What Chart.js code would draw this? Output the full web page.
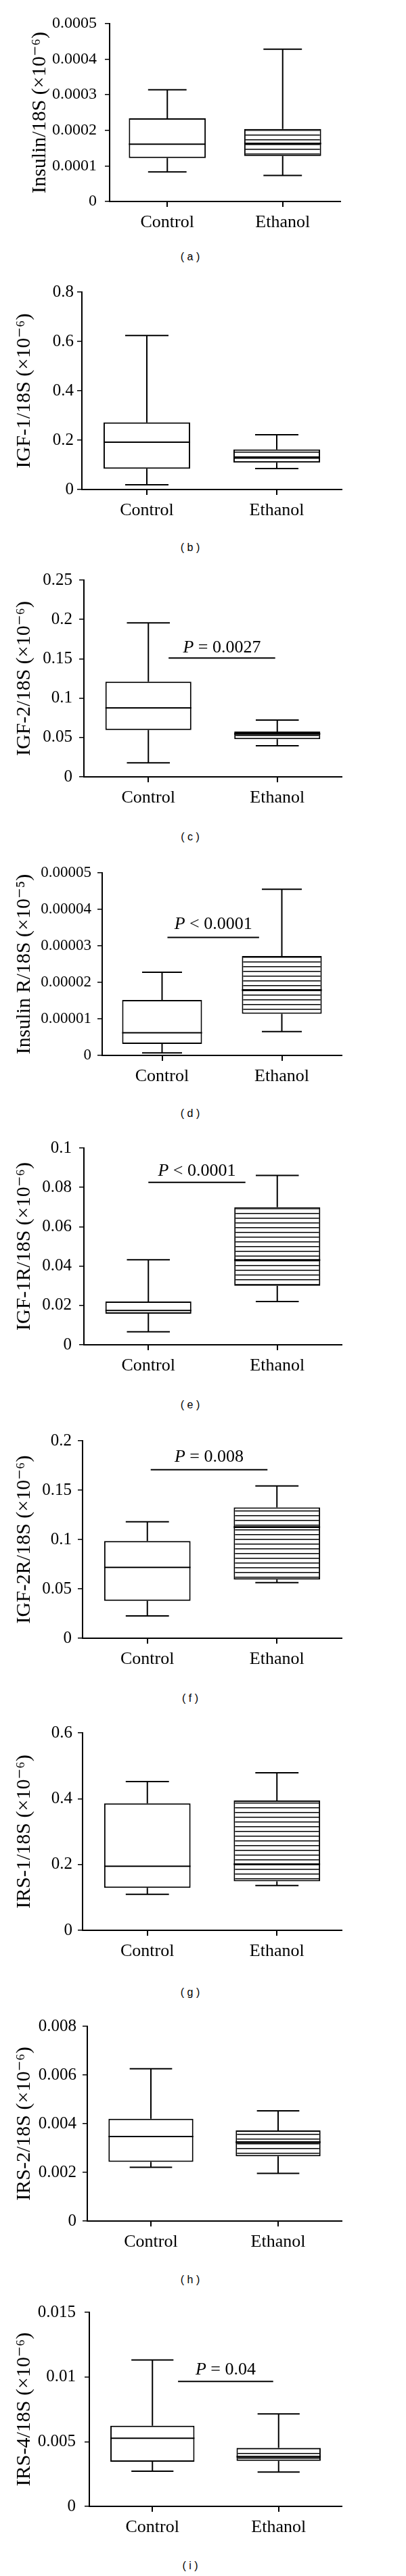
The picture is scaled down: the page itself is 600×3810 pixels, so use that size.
<!DOCTYPE html>
<html><head><meta charset="utf-8">
<script src="https://cdn.jsdelivr.net/npm/chart.js@4.4.0/dist/chart.umd.min.js"></script>
<style>
html,body{margin:0;padding:0;background:#fff;}
body{width:600px;height:3810px;position:relative;overflow:hidden;}
canvas{position:absolute;left:0;}
.sub{position:absolute;left:0;width:562px;text-align:center;font-family:"Liberation Sans",Arial,sans-serif;font-size:16px;line-height:20px;color:#000;white-space:pre;}
</style></head><body>
<script>
// ---------- DATA ----------
const categories = ['Control', 'Ethanol'];
// five-number summaries: [min, Q1, median, Q3, max]
const aControl = [0.0000831, 0.000122, 0.000161, 0.000234, 0.000314];
const aEthanol = [0.000073, 0.000128, 0.000163, 0.000204, 0.000428];
const bControl = [0.019, 0.084, 0.192, 0.272, 0.624];
const bEthanol = [0.085, 0.109, 0.128, 0.162, 0.222];
const cControl = [0.0178, 0.0596, 0.0876, 0.121, 0.1956];
const cEthanol = [0.0395, 0.0478, 0.0547, 0.0576, 0.0722];
const dControl = [0.00000068, 0.00000315, 0.0000062, 0.0000152, 0.0000228];
const dEthanol = [0.00000654, 0.0000114, 0.0000179, 0.0000272, 0.0000455];
const eControl = [0.0066, 0.0158, 0.0174, 0.022, 0.0432];
const eEthanol = [0.022, 0.030, 0.0431, 0.0699, 0.0861];
const fControl = [0.0226, 0.0379, 0.0717, 0.0984, 0.118];
const fEthanol = [0.0564, 0.0594, 0.1126, 0.1326, 0.1543];
const gControl = [0.1096, 0.1288, 0.1945, 0.386, 0.452];
const gEthanol = [0.136, 0.149, 0.201, 0.3945, 0.479];
const hControl = [0.00221, 0.00243, 0.00347, 0.0042, 0.00626];
const hEthanol = [0.00196, 0.00266, 0.00324, 0.00372, 0.00453];
const iControl = [0.00272, 0.00345, 0.00527, 0.00623, 0.01132];
const iEthanol = [0.00265, 0.00352, 0.00384, 0.00452, 0.00715];

const aTicks = [0, 0.0001, 0.0002, 0.0003, 0.0004, 0.0005];
const aTickLabels = ['0', '0.0001', '0.0002', '0.0003', '0.0004', '0.0005'];
const bTicks = [0, 0.2, 0.4, 0.6, 0.8];
const bTickLabels = ['0', '0.2', '0.4', '0.6', '0.8'];
const cTicks = [0, 0.05, 0.1, 0.15, 0.2, 0.25];
const cTickLabels = ['0', '0.05', '0.1', '0.15', '0.2', '0.25'];
const dTicks = [0, 0.00001, 0.00002, 0.00003, 0.00004, 0.00005];
const dTickLabels = ['0', '0.00001', '0.00002', '0.00003', '0.00004', '0.00005'];
const eTicks = [0, 0.02, 0.04, 0.06, 0.08, 0.1];
const eTickLabels = ['0', '0.02', '0.04', '0.06', '0.08', '0.1'];
const fTicks = [0, 0.05, 0.1, 0.15, 0.2];
const fTickLabels = ['0', '0.05', '0.1', '0.15', '0.2'];
const gTicks = [0, 0.2, 0.4, 0.6];
const gTickLabels = ['0', '0.2', '0.4', '0.6'];
const hTicks = [0, 0.002, 0.004, 0.006, 0.008];
const hTickLabels = ['0', '0.002', '0.004', '0.006', '0.008'];
const iTicks = [0, 0.005, 0.01, 0.015];
const iTickLabels = ['0', '0.005', '0.01', '0.015'];

const yTitles = ['Insulin/18S (×10⁻⁶)', 'IGF-1/18S (×10⁻⁶)', 'IGF-2/18S (×10⁻⁶)', 'Insulin R/18S (×10⁻⁵)',
  'IGF-1R/18S (×10⁻⁶)', 'IGF-2R/18S (×10⁻⁶)', 'IRS-1/18S (×10⁻⁶)', 'IRS-2/18S (×10⁻⁶)', 'IRS-4/18S (×10⁻⁶)'];
const panelLetters = ['a', 'b', 'c', 'd', 'e', 'f', 'g', 'h', 'i'];
// significance bars: [from (category units), to (category units), y value]
const cSig = [0.157, 0.984, 0.151];
const dSig = [0.045, 0.81, 0.0000323];
const eSig = [0.0, 0.753, 0.0826];
const fSig = [0.026, 0.927, 0.1708];
const iSig = [0.203, 0.957, 0.00965];
const cSigText = '= 0.0027';
const dSigText = '< 0.0001';
const eSigText = '< 0.0001';
const fSigText = '= 0.008';
const iSigText = '= 0.04';

// ---------- LAYOUT (positions / styles only) ----------
const layouts = [
  {axisX:162, right:503, top:35,   zero:298,  sub:380,  tick:24, tickPad:12, titleX:59},
  {axisX:121, right:505, top:432,  zero:724,  sub:810,  tick:25, tickPad:5,  titleX:36},
  {axisX:124, right:505, top:858,  zero:1149, sub:1238, tick:25, tickPad:10, titleX:36, sigGap:8},
  {axisX:151, right:505, top:1291, zero:1561, sub:1647, tick:23, tickPad:9,  titleX:36, sigGap:13},
  {axisX:124, right:505, top:1698, zero:1989, sub:2078, tick:25, tickPad:11, titleX:36, sigGap:10},
  {axisX:122, right:505, top:2131, zero:2423, sub:2512, tick:25, tickPad:9,  titleX:36, sigGap:12},
  {axisX:122, right:505, top:2563, zero:2855, sub:2947, tick:25, tickPad:8,  titleX:36},
  {axisX:129, right:505, top:2997, zero:3285, sub:3372, tick:25, tickPad:9,  titleX:36},
  {axisX:132, right:505, top:3420, zero:3707, sub:3795, tick:25, tickPad:13, titleX:36, sigGap:10}
];

const panels = [
  {ctrl:aControl, eth:aEthanol, ticks:aTicks, labels:aTickLabels},
  {ctrl:bControl, eth:bEthanol, ticks:bTicks, labels:bTickLabels},
  {ctrl:cControl, eth:cEthanol, ticks:cTicks, labels:cTickLabels, sig:cSig, sigText:cSigText},
  {ctrl:dControl, eth:dEthanol, ticks:dTicks, labels:dTickLabels, sig:dSig, sigText:dSigText},
  {ctrl:eControl, eth:eEthanol, ticks:eTicks, labels:eTickLabels, sig:eSig, sigText:eSigText},
  {ctrl:fControl, eth:fEthanol, ticks:fTicks, labels:fTickLabels, sig:fSig, sigText:fSigText},
  {ctrl:gControl, eth:gEthanol, ticks:gTicks, labels:gTickLabels},
  {ctrl:hControl, eth:hEthanol, ticks:hTicks, labels:hTickLabels},
  {ctrl:iControl, eth:iEthanol, ticks:iTicks, labels:iTickLabels, sig:iSig, sigText:iSigText}
];

const SERIF = '"Liberation Serif", "DejaVu Serif", serif';

function makeHatch() {
  const c = document.createElement('canvas');
  c.width = 10; c.height = 7;
  const x = c.getContext('2d');
  x.fillStyle = '#fff'; x.fillRect(0, 0, 10, 7);
  x.fillStyle = '#000'; x.fillRect(0, 3, 10, 1.5);
  return x.createPattern(c, 'repeat');
}

const boxPlugin = {
  id: 'boxwhisk',
  afterDatasetsDraw(chart) {
    const p = chart.options.plugins.boxwhisk;
    const ys = chart.scales.y, xs = chart.scales.x;
    const meta = chart.getDatasetMeta(0);
    const ctx = chart.ctx;
    ctx.save();
    ctx.strokeStyle = '#000';
    ctx.fillStyle = '#000';
    ctx.lineCap = 'butt';
    [p.ctrl, p.eth].forEach((s, i) => {
      const bar = meta.data[i];
      const x = bar.x, w = bar.width, cap = w / 2;
      const yMin = ys.getPixelForValue(s[0]);
      const yQ1 = ys.getPixelForValue(s[1]);
      const yMed = ys.getPixelForValue(s[2]);
      const yQ3 = ys.getPixelForValue(s[3]);
      const yMax = ys.getPixelForValue(s[4]);
      ctx.lineWidth = 2;
      ctx.beginPath();
      ctx.moveTo(x, yQ3); ctx.lineTo(x, yMax);
      ctx.moveTo(x - cap / 2, yMax); ctx.lineTo(x + cap / 2, yMax);
      ctx.moveTo(x, yQ1); ctx.lineTo(x, yMin);
      ctx.moveTo(x - cap / 2, yMin); ctx.lineTo(x + cap / 2, yMin);
      ctx.stroke();
      ctx.lineWidth = i === 0 ? 2 : 2.6;
      ctx.beginPath();
      ctx.moveTo(x - w / 2, yMed); ctx.lineTo(x + w / 2, yMed);
      ctx.stroke();
    });
    if (p.sig) {
      const x1 = xs.getPixelForValue(p.sig[0]);
      const x2 = xs.getPixelForValue(p.sig[1]);
      const y = ys.getPixelForValue(p.sig[2]);
      ctx.lineWidth = 2;
      ctx.beginPath(); ctx.moveTo(x1, y); ctx.lineTo(x2, y); ctx.stroke();
      ctx.font = 'italic 26px ' + SERIF;
      const wP = ctx.measureText('P').width;
      ctx.font = '26px ' + SERIF;
      const rest = ' ' + p.sigText;
      const wR = ctx.measureText(rest).width;
      const sx = (x1 + x2) / 2 - (wP + wR) / 2;
      const by = y - p.sigGap;
      ctx.textBaseline = 'alphabetic';
      ctx.textAlign = 'left';
      ctx.font = 'italic 26px ' + SERIF;
      ctx.fillText('P', sx, by);
      ctx.font = '26px ' + SERIF;
      ctx.fillText(rest, sx + wP, by);
    }
    ctx.restore();
  }
};

const XH = 60;
panels.forEach((p, k) => {
  const L = layouts[k];
  const PT = Math.min(40, L.top);
  const H = (L.zero - L.top) + PT + XH;
  const cv = document.createElement('canvas');
  cv.width = 600; cv.height = H;
  cv.style.width = '600px'; cv.style.height = H + 'px';
  cv.style.top = (L.top - PT) + 'px';
  document.body.appendChild(cv);

  const sub = document.createElement('div');
  sub.className = 'sub';
  sub.textContent = '( ' + panelLetters[k] + ' )';
  sub.style.top = (L.sub - 10) + 'px';
  document.body.appendChild(sub);

  new Chart(cv.getContext('2d'), {
    type: 'bar',
    data: {
      labels: categories,
      datasets: [{
        data: [[p.ctrl[1], p.ctrl[3]], [p.eth[1], p.eth[3]]],
        backgroundColor: ['#ffffff', makeHatch()],
        borderColor: '#000',
        borderWidth: 2,
        borderSkipped: false,
        barPercentage: 0.667,
        categoryPercentage: 1
      }]
    },
    options: {
      responsive: false,
      animation: false,
      devicePixelRatio: 1,
      layout: {padding: {top: PT, left: 0, right: 600 - L.right, bottom: 0}},
      plugins: {
        legend: {display: false},
        tooltip: {enabled: false},
        boxwhisk: {ctrl: p.ctrl, eth: p.eth, sig: p.sig, sigText: p.sigText, sigGap: L.sigGap || 10}
      },
      scales: {
        x: {
          type: 'category',
          offset: true,
          afterFit(s) { s.height = XH; },
          grid: {display: true, drawOnChartArea: false, drawTicks: true, tickLength: 8, offset: false, color: '#000', lineWidth: 2},
          border: {display: true, color: '#000', width: 2},
          ticks: {color: '#000', padding: 8, font: {family: SERIF, size: 26}, maxRotation: 0, autoSkip: false}
        },
        y: {
          min: 0,
          max: p.ticks[p.ticks.length - 1],
          afterFit(s) { s.width = L.axisX; },
          afterBuildTicks(s) { s.ticks = p.ticks.map(v => ({value: v})); },
          grid: {display: true, drawOnChartArea: false, drawTicks: true, tickLength: 7, color: '#000', lineWidth: 1.5},
          border: {display: true, color: '#000', width: 2},
          ticks: {
            color: '#000', padding: L.tickPad, autoSkip: false,
            font: {family: SERIF, size: L.tick},
            callback: (v, i) => p.labels[i]
          },
          title: {
            display: true, text: yTitles[k], color: '#000',
            font: {family: SERIF, size: 30},
            padding: {top: L.titleX - 18, bottom: 0}
          }
        }
      }
    },
    plugins: [boxPlugin]
  });
});
</script>
</body></html>
